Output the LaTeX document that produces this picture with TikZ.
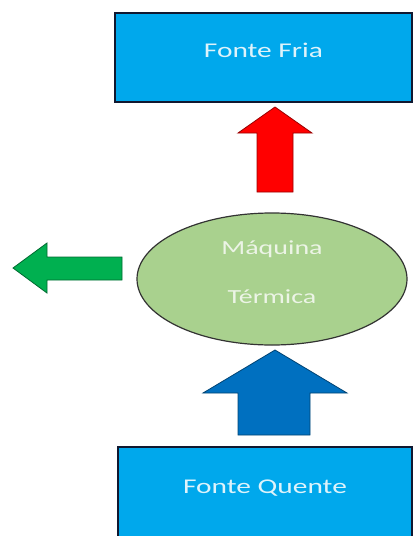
\documentclass[tikz,border=0pt]{standalone}
\usepackage{fontspec}
\setmainfont{Carlito}
\newfontfamily\wideFont[FakeStretch=1.4]{Carlito}
\usetikzlibrary{shapes.geometric, positioning}

\definecolor{boxBlue}{RGB}{0,168,236}
\definecolor{boxEdge}{RGB}{16,24,48}
\definecolor{boxText}{RGB}{222,243,251}
\definecolor{engineGreen}{RGB}{169,209,142}
\definecolor{engineText}{RGB}{236,244,230}
\definecolor{heatRed}{RGB}{255,0,0}
\definecolor{heatBlue}{RGB}{0,112,192}
\definecolor{workGreen}{RGB}{0,176,80}

\begin{document}
\begin{tikzpicture}[x=1pt, y=-1pt,
		reservoir/.style={draw=boxEdge, line width=2.5pt, fill=boxBlue, text=boxText,
			font=\wideFont\fontsize{21}{25}\selectfont, minimum width=297pt, minimum height=89pt,
			text height=14pt, text depth=14pt},
		engine/.style={ellipse, draw=black!80, line width=1.2pt, fill=engineGreen, text=engineText,
			font=\wideFont\fontsize{20}{24}\selectfont, minimum width=270pt, minimum height=132pt,
			align=center},
		blockarrow/.style={line width=0.8pt, line join=miter}]
		
		% Page frame (bottom box runs off the page)
		\useasboundingbox (0,0) rectangle (414,536);
		\clip (0,0) rectangle (414,536);
		
		% Reservoirs
		\node[reservoir] (cold) at (263.5,57.5) {Fonte Fria};
		\node[reservoir, minimum width=294pt, minimum height=92pt] (hot) at (265,493) {Fonte Quente};
		
		% The engine
		\node[engine] (engine) at (272,279) {Máquina\\[25pt]Térmica\rule[-14pt]{0pt}{0pt}};
		
		% Heat rejected to the cold source (red)
		\filldraw[blockarrow, fill=heatRed, draw=red!60!black]
			(257,192) -- (257,133) -- (238,133) -- (275,107) -- (312,133) -- (293,133) -- (293,192) -- cycle;
		
		% Heat taken from the hot source (blue)
		\filldraw[blockarrow, fill=heatBlue, draw=heatBlue!60!black]
			(238,435) -- (238,393) -- (203,393) -- (275,350) -- (347,393) -- (310,393) -- (310,435) -- cycle;
		
		% Work output (green)
		\filldraw[blockarrow, fill=workGreen, draw=workGreen!60!black]
			(122,257) -- (47,257) -- (47,243) -- (13,268) -- (47,293) -- (47,280) -- (122,280) -- cycle;
		
	\end{tikzpicture}
\end{document}
